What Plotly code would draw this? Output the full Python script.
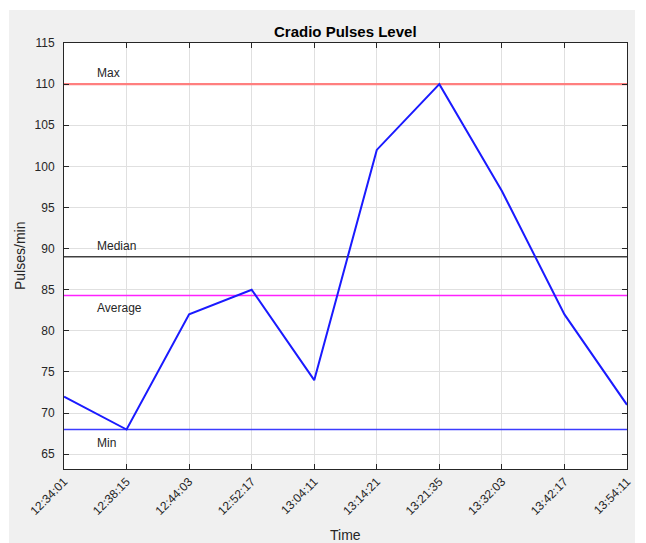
import plotly.graph_objects as go

times = ["12:34:01", "12:38:15", "12:44:03", "12:52:17", "13:04:11",
         "13:14:21", "13:21:35", "13:32:03", "13:42:17", "13:54:11"]
pulses = [72, 68, 82, 85, 74, 102, 110, 97, 82, 71]

stat_names = ["Max", "Median", "Average", "Min"]
stat_values = [110, 89, 84.3, 68]
stat_colors = ["#ff7f7f", "#404040", "#ff22ff", "#3c3cff"]
stat_widths = [2.2, 1.6, 1.4, 1.4]
stat_label_pos = ["above", "above", "below", "below"]

y_ticks = [65, 70, 75, 80, 85, 90, 95, 100, 105, 110, 115]

FONT = "Liberation Sans, Arial, sans-serif"
AX = "#262626"

W, H = 646, 543
L, R, T, B = 64, 627, 43, 469
pw, ph = R - L, B - T


def px_x(p):
    return (p - L) / pw


def px_y(p):
    return (B - p) / ph


xi = list(range(len(times)))

fig = go.Figure()

for name, val, col, w in zip(stat_names, stat_values, stat_colors, stat_widths):
    fig.add_trace(go.Scatter(x=[xi[0], xi[-1]], y=[val, val], mode="lines",
                             line=dict(color=col, width=w), showlegend=False,
                             hoverinfo="skip"))

fig.add_trace(go.Scatter(x=xi, y=pulses, mode="lines",
                         line=dict(color="#1a1aff", width=2), showlegend=False))

for name, val, pos in zip(stat_names, stat_values, stat_label_pos):
    fig.add_annotation(x=0.5, y=val, text=name, showarrow=False,
                       xanchor="left", yanchor="bottom" if pos == "above" else "top",
                       yshift=2 if pos == "above" else -4,
                       font=dict(family=FONT, size=12, color=AX))

# background: grey figure area with white strips at top/left/right
fig.add_shape(type="rect", xref="paper", yref="paper",
              x0=px_x(0), x1=px_x(W), y0=px_y(0), y1=px_y(10),
              fillcolor="white", line=dict(width=0), layer="below")
fig.add_shape(type="rect", xref="paper", yref="paper",
              x0=px_x(0), x1=px_x(9), y0=px_y(H), y1=px_y(0),
              fillcolor="white", line=dict(width=0), layer="below")
fig.add_shape(type="rect", xref="paper", yref="paper",
              x0=px_x(635), x1=px_x(W), y0=px_y(H), y1=px_y(0),
              fillcolor="white", line=dict(width=0), layer="below")

fig.add_annotation(xref="paper", yref="paper", x=0.5, y=px_y(32),
                   text="<b>Cradio Pulses Level</b>", showarrow=False,
                   xanchor="center", yanchor="middle",
                   font=dict(family=FONT, size=15, color="#000000"))
fig.add_annotation(xref="paper", yref="paper", x=px_x(20), y=0.5,
                   text="Pulses/min", showarrow=False, textangle=-90,
                   xanchor="center", yanchor="middle",
                   font=dict(family=FONT, size=14, color=AX))
fig.add_annotation(xref="paper", yref="paper", x=0.5, y=px_y(535),
                   text="Time", showarrow=False,
                   xanchor="center", yanchor="middle",
                   font=dict(family=FONT, size=14, color=AX))

fig.update_xaxes(range=[0, len(times) - 1], tickmode="array", tickvals=xi,
                 ticktext=times, tickangle=-45, showgrid=True,
                 gridcolor="#e0e0e0", gridwidth=1, zeroline=False,
                 showline=True, linecolor=AX, linewidth=1, mirror="ticks",
                 ticks="inside", ticklen=5, tickcolor=AX, automargin=False,
                 tickfont=dict(family=FONT, size=12, color=AX))
fig.update_yaxes(range=[63.2, 115], tickmode="array", tickvals=y_ticks,
                 showgrid=True, gridcolor="#e0e0e0", gridwidth=1, zeroline=False,
                 showline=True, linecolor=AX, linewidth=1, mirror="ticks",
                 ticks="inside", ticklen=5, tickcolor=AX, automargin=False,
                 ticklabelstandoff=6,
                 tickfont=dict(family=FONT, size=12, color=AX))

fig.update_layout(width=W, height=H, margin=dict(l=L, r=W - R, t=T, b=H - B),
                  paper_bgcolor="#f0f0f0", plot_bgcolor="white",
                  showlegend=False)

fig.write_html("out.html", config={"displayModeBar": False},
               post_script="document.body.style.margin='0';document.body.style.padding='0';")
